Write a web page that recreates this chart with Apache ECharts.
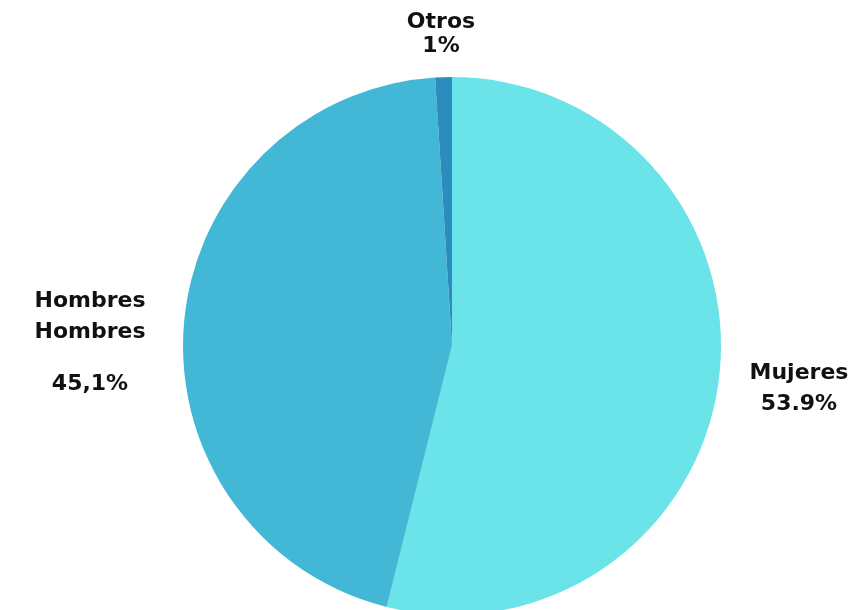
<!DOCTYPE html>
<html><head><meta charset="utf-8">
<script src="https://cdn.jsdelivr.net/npm/echarts@6/dist/echarts.min.js"></script>
<style>html,body{margin:0;padding:0;background:#fff}#c{width:863px;height:610px}</style>
</head><body><div id="c"></div>
<script>
const categories = ['Mujeres', 'Hombres', 'Otros'];
const values = [53.9, 45.1, 1];
const labelTexts = ['{a|Mujeres}\n{a|53.9%}', '{a|Hombres}\n{a|Hombres}\n{b|45,1%}', '{c|Otros}\n{c|1%}'];
const colors = ['#6AE4E8', '#43B8D6', '#2B8CBE'];

const labelPos = [
  {x: 799, y: 389},
  {x: 90, y: 353},
  {x: 441, y: 34}
];

const textBase = {color: '#111', fontFamily: 'DejaVu Sans', fontWeight: 'bold', fontSize: 22, align: 'center'};

const chart = echarts.init(document.getElementById('c'));
chart.setOption({
  animation: false,
  series: [{
    type: 'pie',
    center: [452, 346],
    radius: 269,
    startAngle: 90,
    clockwise: true,
    label: {
      show: true,
      position: 'outside',
      overflow: 'none',
      align: 'center',
      rich: {
        a: Object.assign({lineHeight: 31}, textBase),
        b: Object.assign({lineHeight: 73}, textBase),
        c: Object.assign({lineHeight: 24}, textBase)
      }
    },
    labelLine: {show: false},
    labelLayout: function (p) {
      const lp = labelPos[p.dataIndex];
      return {x: lp.x, y: lp.y, align: 'center', verticalAlign: 'middle', width: 200};
    },
    data: categories.map((c, i) => ({
      name: c,
      value: values[i],
      itemStyle: {color: colors[i]},
      label: {formatter: labelTexts[i]}
    }))
  }]
});
</script></body></html>
